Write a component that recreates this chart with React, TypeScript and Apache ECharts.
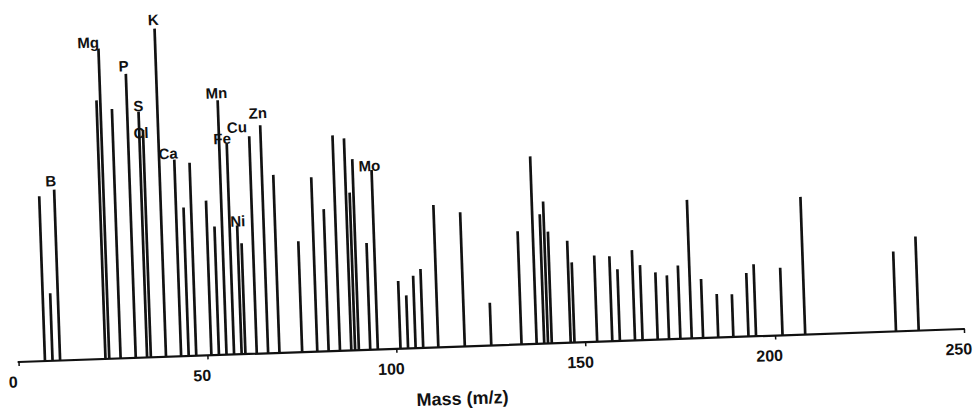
import React, { useEffect, useRef } from "react";
import * as echarts from "echarts";

// m/z positions of the spectral lines
const massValues = [
  7, 9, 11, 23, 24, 27, 31, 34, 35, 39, 43, 45, 47, 51, 53, 55, 57, 59, 60, 63,
  66, 69, 75, 79, 82, 85, 88, 89, 90, 93, 95, 101, 103, 105, 107, 111, 118, 125,
  133, 137, 139, 140, 141, 146, 147, 153, 157, 159, 163, 165, 169, 172, 175, 178,
  181, 185, 189, 193, 195, 202, 208, 232, 238,
];

// relative intensities (arbitrary units, 0–100)
const intensities = [
  48.5, 19.9, 50.3, 76.1, 91.3, 73.4, 83.6, 72.3, 66.9, 96.6, 57.9, 43.7, 56.8,
  45.5, 37.8, 74.9, 62.0, 37.9, 32.6, 64.0, 67.1, 52.4, 32.6, 51.3, 41.8, 63.4,
  62.4, 46.4, 56.2, 31.4, 52.8, 19.9, 15.6, 21.3, 23.2, 41.9, 39.5, 12.6, 33.3,
  55.2, 38.1, 41.8, 32.9, 30.0, 23.6, 25.4, 25.0, 21.1, 26.6, 22.1, 19.8, 18.8,
  21.6, 40.8, 17.4, 12.8, 12.6, 18.7, 21.2, 19.9, 40.5, 23.5, 27.7,
];

// element labels and the line each one annotates
const labelElements = ["B", "Mg", "P", "S", "Cl", "K", "Ca", "Mn", "Fe", "Ni", "Cu", "Zn", "Mo"];
const labelMasses = [11, 24, 31, 34, 35, 39, 43, 55, 57, 60, 63, 66, 95];

// layout: label offsets relative to the line top
const labelOffsets: Record<string, [number, number]> = {
  B: [-3, -1.5],
  Mg: [-10, 1],
  P: [-2, -0.5],
  S: [0, 1.5],
  Cl: [-2, 10],
  K: [-1, -1.5],
  Ca: [-6, 1],
  Mn: [-1, 0],
  Fe: [-4.5, 2],
  Ni: [-3, -15],
  Cu: [-12, -2],
  Zn: [-2, -5],
  Mo: [-2, 3],
};

const FONT = "'Liberation Sans', Arial, Helvetica, sans-serif";

export default function App() {
  const ref = useRef<HTMLDivElement>(null);

  useEffect(() => {
    if (!ref.current) return;
    const chart = echarts.init(ref.current, undefined, { renderer: "svg" });
    const data = massValues.map((m, i) => {
      const idx = labelMasses.indexOf(m);
      const item: any = { value: [m, intensities[i]] };
      if (idx >= 0) {
        const el = labelElements[idx];
        item.label = { show: true, formatter: el, offset: labelOffsets[el] };
      }
      return item;
    });
    chart.setOption({
      animation: false,
      backgroundColor: "#ffffff",
      grid: { left: 18.5, right: 7.25, top: 22, bottom: 78 },
      xAxis: {
        type: "value",
        min: 0,
        max: 250,
        interval: 50,
        name: "Mass (m/z)",
        nameLocation: "middle",
        nameGap: 43,
        nameTextStyle: {
          fontFamily: FONT,
          fontWeight: "bold",
          fontSize: 18,
          color: "#111",
          padding: [0, 61, 0, 0],
        },
        axisLine: { lineStyle: { color: "#111", width: 2.2 } },
        axisTick: { show: true, length: 4, lineStyle: { color: "#111", width: 1.5 } },
        axisLabel: {
          fontFamily: FONT,
          fontWeight: "bold",
          fontSize: 16,
          color: "#111",
          margin: 12,
          padding: [0, 12, 0, 0],
        },
        splitLine: { show: false },
      },
      yAxis: { type: "value", min: 0, max: 100, show: false },
      series: [
        {
          type: "bar",
          barWidth: 2.7,
          itemStyle: { color: "#121212" },
          label: {
            show: false,
            position: "top",
            distance: 0,
            fontFamily: FONT,
            fontWeight: "bold",
            fontSize: 15,
            color: "#111",
          },
          data,
        },
      ],
    });
    return () => chart.dispose();
  }, []);

  return (
    <div
      style={{
        position: "absolute",
        left: 0,
        top: 0,
        width: 975,
        height: 412,
        overflow: "hidden",
        background: "#fff",
      }}
    >
      <div
        ref={ref}
        style={{
          width: 975,
          height: 440,
          transform: "rotate(-2deg)",
          transformOrigin: "18.5px 362px",
        }}
      />
    </div>
  );
}
